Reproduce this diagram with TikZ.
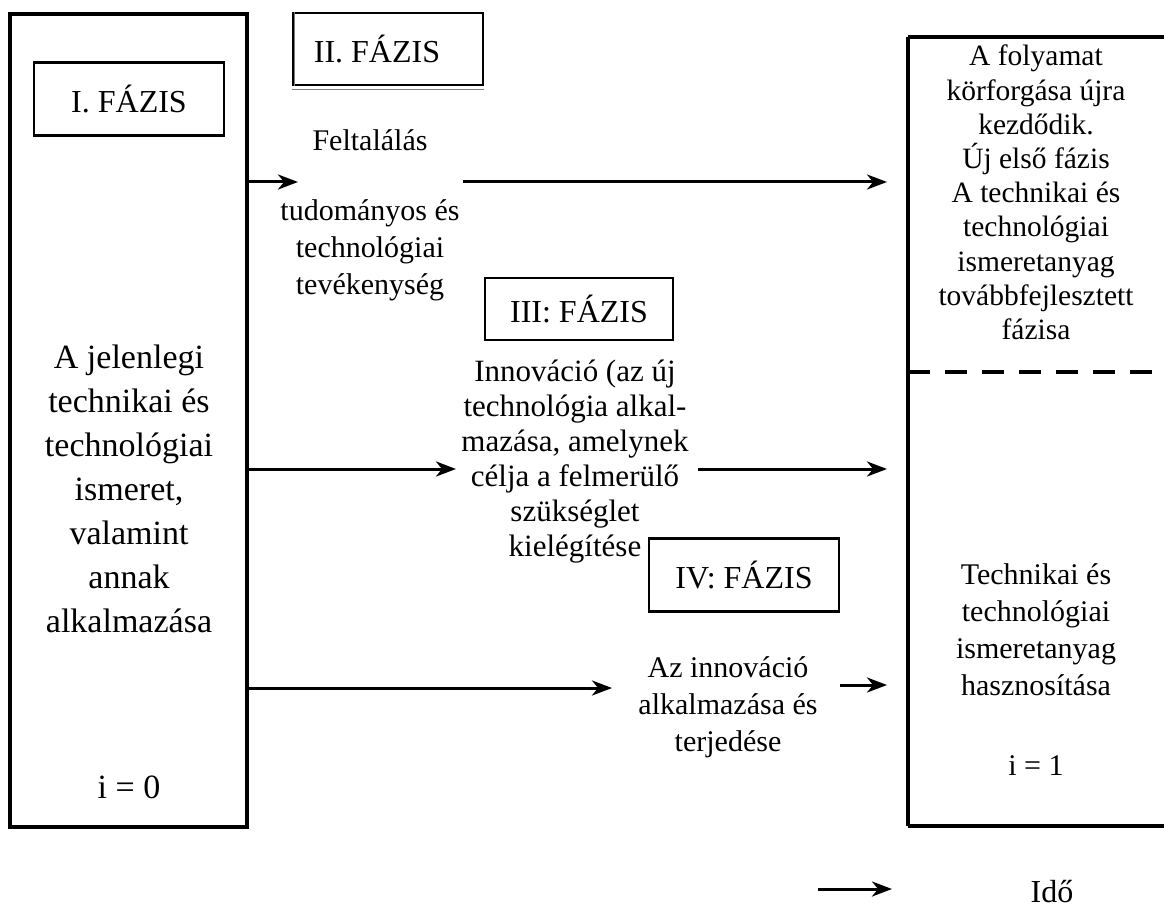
\documentclass[tikz,border=0pt]{standalone}
\usepackage{fontspec}
\setmainfont{Liberation Serif}
\usetikzlibrary{arrows.meta}
\tikzset{
  frame/.style={draw, line width=3.4pt},
  phase/.style={draw, line width=2.4pt, minimum width=190pt, font=\fontsize{32}{36}\selectfont},
  body/.style={align=center, font=\fontsize{30}{37}\selectfont, inner sep=0pt},
  bigbody/.style={align=center, font=\fontsize{34}{44}\selectfont, inner sep=0pt},
  flow/.style={line width=3pt, -{Stealth[length=20pt,width=15pt,inset=6pt]}},
}
\begin{document}
\begin{tikzpicture}[x=1pt,y=-1pt]
\useasboundingbox (0,0) rectangle (1164,917);
% outer boxes
\draw[frame] (10,14) rectangle (247,827);
\draw[frame] (908,37) -- (1170,37);
\draw[frame] (908,826) -- (1170,826);
\draw[frame] (908,37) -- (908,826);
\draw[line width=4.5pt, dash pattern=on 22pt off 15pt] (908,372) -- (1164,372);
\coordinate (L1) at (247,182);
\coordinate (L2) at (247,469);
\coordinate (L3) at (247,688);
\coordinate (R1) at (887,182);
\coordinate (R2) at (887,469);
\coordinate (R3) at (887,685);
% phase labels
\node[phase, minimum height=73pt] (p1) at (129,99) {I. FÁZIS};
\node[phase, minimum height=72pt] (p2) at (388,49) {\hspace*{-22pt}II. FÁZIS};
\draw[line width=1pt, gray] ([yshift=-3pt]p2.south west) -- ([yshift=-3pt]p2.south east);
\draw[line width=1pt, gray] ([xshift=3pt]p2.north west) -- ([xshift=3pt]p2.south west);
\node[phase, minimum width=188pt, minimum height=62pt] (p3) at (579,309) {III: FÁZIS};
\node[phase, minimum height=73pt] (p4) at (744,575) {IV: FÁZIS};
% texts
\node[bigbody] (cur) at (129,489) {A jelenlegi\\technikai és\\technológiai\\ismeret,\\valamint\\annak\\alkalmazása};
\node[bigbody] (i0) at (129,787) {i = 0};
\node[body] (inv) at (370,140) {Feltalálás};
\node[body] (sci) at (370,250) {tudományos és\\technológiai\\tevékenység};
\node[body, font=\fontsize{31}{35}\selectfont] (inn) at (575,462) {Innováció (az új\\technológia alkal-\\mazása, amelynek\\célja a felmerülő\\szükséglet\\kielégítése};
\node[body] (dif) at (728,707) {Az innováció\\alkalmazása és\\terjedése};
\node[body, anchor=north, font=\fontsize{29.5}{34.2}\selectfont] (new) at (1036,45) {A folyamat\\körforgása újra\\kezdődik.\\Új első fázis\\A technikai és\\technológiai\\ismeretanyag\\továbbfejlesztett\\fázisa};
\node[body] (use) at (1036,630) {Technikai és\\technológiai\\ismeretanyag\\hasznosítása};
\node[body] (i1) at (1036,766) {i = 1};
\node[body, font=\fontsize{32}{37}\selectfont] (time) at (1052,892) {Idő};
\coordinate (T0) at (818,889);
\coordinate (T1) at (892,889);
% connectors
\draw[flow] (L1) -- (298,182);
\draw[flow] (463,182) -- (R1);
\draw[flow] (L2) -- (456,469);
\draw[flow] (698,469) -- (R2);
\draw[flow] (L3) -- (612,688);
\draw[flow] (840,685) -- (R3);
\draw[flow] (T0) -- (T1);
\end{tikzpicture}
\end{document}
